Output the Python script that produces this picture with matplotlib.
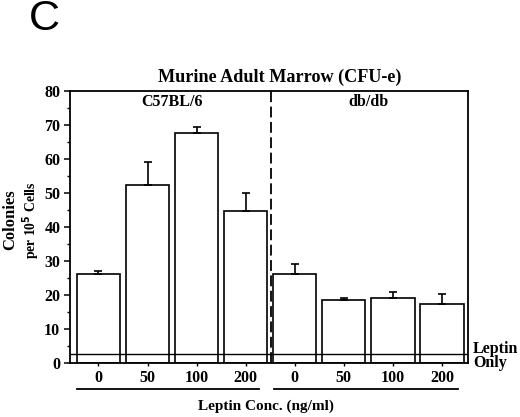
import matplotlib
matplotlib.use("Agg")
import matplotlib.pyplot as plt
from matplotlib.ticker import MultipleLocator
import numpy as np

# Data
groups = ["C57BL/6", "db/db"]
doses = ["0", "50", "100", "200", "0", "50", "100", "200"]
values = [26.0, 52.2, 67.6, 44.7, 26.0, 18.5, 18.9, 17.4]
err_up = [1.1, 6.9, 1.6, 5.1, 3.0, 0.4, 2.0, 2.7]
leptin_only = 2.5

SERIF = ["Liberation Serif", "DejaVu Serif"]

fig = plt.figure(figsize=(5.2, 4.17), dpi=100)
ax = fig.add_axes([0.1346, 0.1302, 0.9 - 0.1346, 0.7825 - 0.1302])

x = np.arange(len(values))
ax.bar(x, values, width=0.88, color="white", edgecolor="black", linewidth=1.2, zorder=2)
ax.errorbar(x, values, yerr=[np.zeros(len(values)), err_up], fmt="none",
            ecolor="black", elinewidth=1.2, capsize=3, capthick=1.2, zorder=3)

ax.axhline(leptin_only, color="black", linewidth=1.0, zorder=4)
ax.axvline(3.51, color="black", linewidth=1.3, linestyle=(0, (6, 2.5)), zorder=4)

ax.set_xlim(-0.58, 7.53)
ax.set_ylim(0, 80)
ax.yaxis.set_major_locator(MultipleLocator(10))
ax.yaxis.set_minor_locator(MultipleLocator(5))
ax.set_xticks(x)
ax.set_xticklabels(doses)
ax.tick_params(axis="y", which="major", length=4, width=1.1, direction="out", pad=3)
ax.tick_params(axis="y", which="minor", length=2.5, width=1.0, direction="out")
ax.tick_params(axis="x", length=2.5, width=1.0, direction="out", pad=3)
for lab in ax.get_xticklabels() + ax.get_yticklabels():
    lab.set_fontfamily(SERIF)
    lab.set_fontweight("bold")
    lab.set_fontsize(11.5)
for s in ax.spines.values():
    s.set_linewidth(1.3)

ax.set_title("Murine Adult Marrow (CFU-e)", fontfamily=SERIF, fontweight="bold",
             fontsize=13.1, pad=6, x=(280 - 70) / 398)
ax.text(1.5, 76.8, groups[0], ha="center", va="center", fontfamily=SERIF,
        fontweight="bold", fontsize=11.5)
ax.text(5.5, 76.8, groups[1], ha="center", va="center", fontfamily=SERIF,
        fontweight="bold", fontsize=11.5)

# y labels
fig.text(10 / 520, 1 - 220 / 417, "Colonies", rotation=90, ha="center", va="center",
         fontfamily=SERIF, fontweight="bold", fontsize=12)
fig.text(31 / 520, 1 - 220 / 417, r"per 10$^{\mathbf{5}}$ Cells", rotation=90,
         ha="center", va="center", fontfamily=SERIF, fontweight="bold", fontsize=9.8)

# Leptin only label
ax.text(1.012, 0.025, "Leptin\nOnly", transform=ax.transAxes, ha="left", va="center",
        fontfamily=SERIF, fontweight="bold", fontsize=11.5, linespacing=0.9)

# group underlines
trans = ax.get_xaxis_transform()
ax.plot([-0.44, 3.28], [-0.097, -0.097], transform=trans, color="black",
        linewidth=1.3, clip_on=False)
ax.plot([3.58, 7.33], [-0.097, -0.097], transform=trans, color="black",
        linewidth=1.3, clip_on=False)

fig.text(266 / 520, 1 - 406 / 417, "Leptin Conc. (ng/ml)", ha="center", va="center",
         fontfamily=SERIF, fontweight="bold", fontsize=11)

fig.text(44 / 520, 1 - 19 / 417, "C", ha="center", va="center",
         fontfamily=["Liberation Sans", "DejaVu Sans"], fontsize=31)

fig.savefig("out.png", dpi=100)
